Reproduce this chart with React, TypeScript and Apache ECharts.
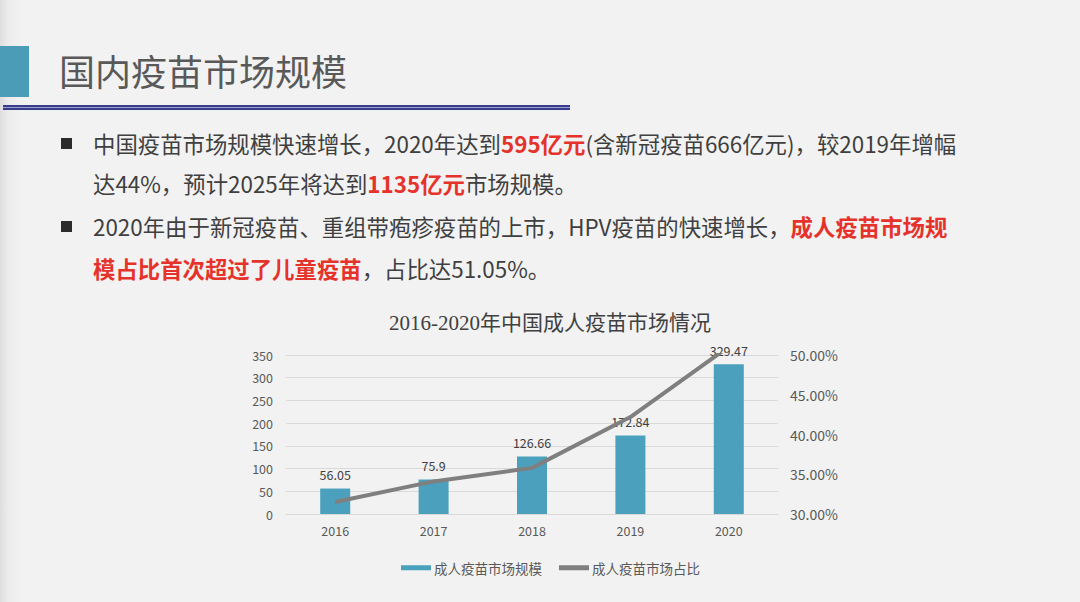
import React, { useEffect, useRef } from "react";
import * as echarts from "echarts";

const years = ["2016", "2017", "2018", "2019", "2020"];
const marketSize = [56.05, 75.9, 126.66, 172.84, 329.47];
const marketShare = [31.5, 34.1, 35.8, 42.2, 51.05];
const seriesNames = ["成人疫苗市场规模", "成人疫苗市场占比"];
const chartTitle = "2016-2020年中国成人疫苗市场情况";
const slideTitle = "国内疫苗市场规模";

const SANS = "'Noto Sans CJK SC', 'Open Sans', sans-serif";
const SERIF = "'Liberation Serif', 'Noto Sans CJK SC', serif";
const RED = "#e5322a";
const TXT = "#3f3f3f";

function Bullet({ top }: { top: number }) {
  return (
    <div
      style={{
        position: "absolute",
        left: 61,
        top,
        width: 11,
        height: 11,
        background: "#2b2b2b",
      }}
    />
  );
}

function Line({ top, children }: { top: number; children: React.ReactNode }) {
  return (
    <div
      style={{
        position: "absolute",
        left: 93,
        top,
        fontSize: 22.4,
        lineHeight: "30px",
        color: TXT,
        fontFamily: SANS,
        whiteSpace: "nowrap",
      }}
    >
      {children}
    </div>
  );
}

const R = ({ children }: { children: React.ReactNode }) => (
  <span style={{ color: RED, fontWeight: 700 }}>{children}</span>
);

export default function App() {
  const ref = useRef<HTMLDivElement>(null);

  useEffect(() => {
    if (!ref.current) return;
    const chart = echarts.init(ref.current, undefined, { renderer: "svg" });
    chart.setOption({
      animation: false,
      backgroundColor: "transparent",
      title: {
        text: chartTitle,
        left: 545,
        top: 307,
        textAlign: "center",
        textStyle: {
          fontFamily: SERIF,
          fontSize: 21,
          fontWeight: "normal",
          color: "#404040",
        },
      },
      legend: {
        left: 396,
        top: 556,
        itemWidth: 30,
        itemHeight: 5,
        itemGap: 17,
        textStyle: { fontFamily: SANS, fontSize: 13.5, color: "#595959", padding: [0, 0, 0, -2] },
        data: [
          { name: seriesNames[0], icon: "rect" },
          { name: seriesNames[1], icon: "rect", itemStyle: { color: "#7f7f7f" } },
        ],
      },
      grid: { left: 286, right: 302, top: 355, bottom: 88, containLabel: false },
      xAxis: {
        type: "category",
        data: years,
        axisLine: { lineStyle: { color: "#d9d9d9" } },
        axisTick: { show: false },
        axisLabel: { color: "#595959", fontSize: 12.5, fontFamily: SANS, margin: 10 },
      },
      yAxis: [
        {
          type: "value",
          min: 0,
          max: 350,
          interval: 50,
          axisLine: { show: false },
          axisTick: { show: false },
          splitLine: { lineStyle: { color: "#d9d9d9" } },
          axisLabel: { color: "#595959", fontSize: 12.5, fontFamily: SANS, margin: 13 },
        },
        {
          type: "value",
          min: 30,
          max: 50,
          interval: 5,
          position: "right",
          axisLine: { show: false },
          axisTick: { show: false },
          splitLine: { show: false },
          axisLabel: {
            color: "#595959",
            fontSize: 14,
            fontFamily: SANS,
            margin: 12,
            formatter: (v: number) => v.toFixed(2) + "%",
          },
        },
      ],
      series: [
        {
          name: seriesNames[0],
          type: "bar",
          data: marketSize,
          barWidth: 30,
          itemStyle: { color: "#4ba0bd" },
          label: {
            show: true,
            position: "top",
            distance: 8,
            color: "#404040",
            fontSize: 12.5,
            fontFamily: SANS,
          },
        },
        {
          name: seriesNames[1],
          type: "line",
          yAxisIndex: 1,
          data: marketShare,
          symbol: "none",
          clip: true,
          lineStyle: { color: "#7f7f7f", width: 4 },
          itemStyle: { color: "#7f7f7f" },
          z: 3,
        },
      ],
    });
    return () => chart.dispose();
  }, []);

  return (
    <div
      style={{
        position: "fixed",
        left: 0,
        top: 0,
        width: 1080,
        height: 602,
        overflow: "hidden",
        background: "linear-gradient(to right, #dedede 0px, #ececec 8px, #f2f2f2 22px, #f2f2f2 100%)",
      }}
    >
      <div style={{ position: "absolute", left: 0, top: 46, width: 29, height: 51, background: "#4b9cb6" }} />
      <div
        style={{
          position: "absolute",
          left: 59,
          top: 45,
          fontSize: 36,
          lineHeight: "50px",
          color: "#595959",
          fontFamily: SANS,
          whiteSpace: "nowrap",
        }}
      >
        {slideTitle}
      </div>
      <div style={{ position: "absolute", left: 3, top: 105, width: 567, height: 2, background: "#3a3d8c" }} />
      <div style={{ position: "absolute", left: 3, top: 107, width: 567, height: 1, background: "#9aa0d0" }} />
      <div style={{ position: "absolute", left: 3, top: 108, width: 567, height: 2, background: "#3a3d8c" }} />

      <Bullet top={138} />
      <Line top={128}>
        中国疫苗市场规模快速增长，2020年达到<R>595亿元</R>(含新冠疫苗666亿元)，较2019年增幅
      </Line>
      <Line top={168}>
        达44%，预计2025年将达到<R>1135亿元</R>市场规模。
      </Line>
      <Bullet top={221} />
      <Line top={211}>
        2020年由于新冠疫苗、重组带疱疹疫苗的上市，HPV疫苗的快速增长，<R>成人疫苗市场规</R>
      </Line>
      <Line top={253}>
        <R>模占比首次超过了儿童疫苗</R>，占比达51.05%。
      </Line>

      <div ref={ref} style={{ position: "absolute", left: 0, top: 0, width: 1080, height: 602 }} />
    </div>
  );
}
